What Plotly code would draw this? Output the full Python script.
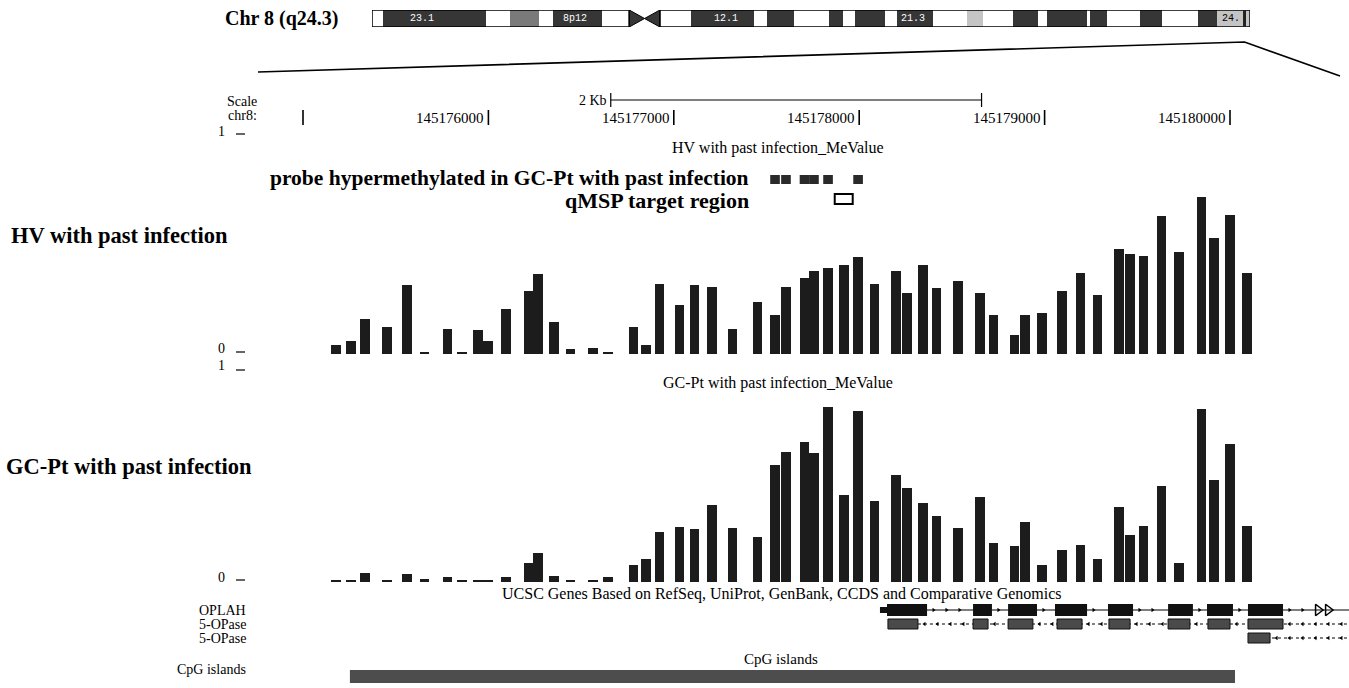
import plotly.graph_objects as go
import numpy as np

W, H = 1349, 688
SERIF = "Liberation Serif"

# ---------------- data ----------------
# probe (CpG site) centre positions on chr8, bp
probe_pos = [145175178, 145175259, 145175334, 145175453, 145175561, 145175655, 145175779,
             145175858, 145175944, 145175998, 145176095, 145176219, 145176268, 145176354,
             145176443, 145176564, 145176645, 145176783, 145176850, 145176923, 145177031,
             145177112, 145177206, 145177317, 145177451, 145177546, 145177605, 145177705,
             145177756, 145177832, 145177918, 145177994, 145178083, 145178198, 145178258,
             145178344, 145178417, 145178533, 145178652, 145178724, 145178838, 145178894,
             145178986, 145179094, 145179194, 145179285, 145179401, 145179461, 145179533,
             145179631, 145179725, 145179846, 145179914, 145180000, 145180092]
PROBE_BP = 52

hv_values = [0.041, 0.059, 0.159, 0.123, 0.314, 0.009, 0.114, 0.009, 0.109, 0.059, 0.205,
             0.286, 0.364, 0.145, 0.023, 0.027, 0.009, 0.123, 0.041, 0.318, 0.223, 0.314,
             0.305, 0.114, 0.236, 0.177, 0.305, 0.345, 0.377, 0.391, 0.405, 0.441, 0.318,
             0.377, 0.277, 0.405, 0.300, 0.332, 0.277, 0.177, 0.086, 0.177, 0.186, 0.286,
             0.368, 0.268, 0.477, 0.455, 0.445, 0.627, 0.464, 0.714, 0.527, 0.632, 0.368]

gc_values = [0.009, 0.009, 0.042, 0.009, 0.037, 0.014, 0.023, 0.009, 0.009, 0.009, 0.023,
             0.089, 0.136, 0.028, 0.009, 0.009, 0.023, 0.079, 0.107, 0.234, 0.257, 0.248,
             0.360, 0.252, 0.210, 0.547, 0.607, 0.654, 0.603, 0.818, 0.407, 0.799, 0.379,
             0.500, 0.439, 0.369, 0.308, 0.252, 0.397, 0.182, 0.168, 0.280, 0.079, 0.150,
             0.173, 0.107, 0.350, 0.220, 0.262, 0.449, 0.089, 0.808, 0.477, 0.645, 0.262]

hyper_idx = [25, 26, 27, 28, 29, 31]          # probes hypermethylated in GC-Pt
qmsp_region = [145177868, 145177965]

ruler_ticks = [145175000, 145176000, 145177000, 145178000, 145179000, 145180000]
ruler_labels = ["", "145176000", "145177000", "145178000", "145179000", "145180000"]
scale_bar = [145176660, 145178660]
scale_text = "2 Kb"

oplah_utr = [145178112, 145178200]
oplah_start = [145178150, 145178614, 145178803, 145179056, 145179342, 145179666, 145179876, 145180097]
oplah_end = [145178366, 145178716, 145178959, 145179229, 145179477, 145179800, 145180016, 145180286]
opase1_start = [145178155, 145178614, 145178803, 145179067, 145179347, 145179666, 145179881, 145180097]
opase1_end = [145178317, 145178695, 145178937, 145179202, 145179461, 145179784, 145180000, 145180286]
opase2_start = [145180097]
opase2_end = [145180216]
oplah_end_arrows = [145180475, 145180529]
cpg_island = [145175253, 145180027]

band_edges_mb = [0, 1.8, 19.0, 23.0, 27.8, 30.1, 38.3, 42.8, 47.9, 53.1, 63.6, 65.7, 70.2,
                 76.0, 78.4, 80.4, 85.4, 87.4, 93.3, 99.0, 101.7, 106.7, 110.8, 112.3, 119.0,
                 119.5, 122.3, 127.8, 131.4, 137.4, 140.6, 146.1]
band_stains = ["gneg", "gpos100", "gneg", "gpos50", "gneg", "gpos100", "gneg", "acen", "gneg",
               "gpos100", "gneg", "gpos100", "gneg", "gpos100", "gneg", "gpos100", "gneg",
               "gpos100", "gneg", "gpos25", "gneg", "gpos100", "gneg", "gpos100", "gneg",
               "gpos100", "gneg", "gpos100", "gneg", "gpos100", "gpos25"]
band_label_text = ["23.1", "8p12", "12.1", "21.3", "24."]
band_label_mb = [8.3, 33.8, 58.9, 90.0, 143.0]
view_mb = 145.18

# ---------------- layout helpers ----------------
REF_POS, REF_PX, PX_PER_BP = 145175000, 303, 0.1854
G0 = REF_POS - REF_PX / PX_PER_BP
G1 = REF_POS + (W - REF_PX) / PX_PER_BP
IDEO_X0, IDEO_PX_PER_MB = 372, 6.01


def px(x):
    return x / W


def py(y):
    return 1 - y / H


STAIN_COL = {"gneg": "#ffffff", "gpos100": "#363636", "gpos50": "#7a7a7a",
             "gpos25": "#c4c4c4", "acen": "#363636"}

fig = go.Figure()
shapes = []
ann = []


def text(x, y, s, size=13, xanchor="center", bold=False, xref="paper", yref="paper",
         color="black", family=SERIF, xshift=0):
    if xref == "paper":
        x = px(x)
    if yref == "paper":
        y = py(y)
    ann.append(dict(x=x, y=y, xref=xref, yref=yref, text=f"<b>{s}</b>" if bold else s,
                    showarrow=False, xanchor=xanchor, yanchor="middle", xshift=xshift,
                    borderpad=0, font=dict(family=family, size=size, color=color)))


def hline(x0, x1, y, xref="x", width=1.2, color="black", dash=None):
    shapes.append(dict(type="line", xref=xref, yref="paper", x0=x0, x1=x1, y0=py(y), y1=py(y),
                       line=dict(color=color, width=width, dash=dash)))


def vline(x, y0, y1, xref="x", width=1.2, color="black"):
    shapes.append(dict(type="line", xref=xref, yref="paper", x0=x, x1=x, y0=py(y0), y1=py(y1),
                       line=dict(color=color, width=width)))


def box(x0, x1, y0, y1, fill="black", line_color=None, lw=0, xref="x"):
    shapes.append(dict(type="rect", xref=xref, yref="paper", x0=x0, x1=x1, y0=py(y1), y1=py(y0),
                       fillcolor=fill, line=dict(color=line_color or fill, width=lw)))


# ---------------- ideogram ----------------
idx_bands = [i for i, s in enumerate(band_stains) if s != "acen"]
fig.add_trace(go.Bar(
    orientation="h", xaxis="x2", yaxis="y3",
    y=[0.5] * len(idx_bands),
    base=[band_edges_mb[i] for i in idx_bands],
    x=[band_edges_mb[i + 1] - band_edges_mb[i] for i in idx_bands],
    width=1, marker=dict(color=[STAIN_COL[band_stains[i]] for i in idx_bands], line=dict(width=0)),
    hoverinfo="skip"))
ac = band_stains.index("acen")
a0, a1 = band_edges_mb[ac], band_edges_mb[ac + 1]
am = (a0 + a1) / 2
for xs in ([a0, a0, am, a0], [a1, a1, am, a1]):
    fig.add_trace(go.Scatter(x=xs, y=[0, 1, 0.5, 0], xaxis="x2", yaxis="y3", mode="lines",
                             fill="toself", fillcolor="#363636", line=dict(color="black", width=1),
                             hoverinfo="skip"))
for x0, x1 in ((0, a0), (a1, band_edges_mb[-1])):
    shapes.append(dict(type="rect", xref="x2", yref="y3", x0=x0, x1=x1, y0=0, y1=1,
                       line=dict(color="black", width=1.5)))
shapes.append(dict(type="line", xref="x2", yref="y3", x0=view_mb, x1=view_mb, y0=-0.15, y1=1.15,
                   line=dict(color="#222", width=3)))
for s, m in zip(band_label_text, band_label_mb):
    st = band_stains[int(np.searchsorted(band_edges_mb, m)) - 1]
    text(m, 0.5, s, size=10, xref="x2", yref="y3", family="Liberation Mono",
         color="white" if st == "gpos100" else "black")
text(340, 18, "Chr 8 (q24.3)", size=20, xanchor="right", bold=True)

# zoom lines from the ideogram position to the track edges
fig.add_trace(go.Scatter(x=[px(258), px(IDEO_X0 + view_mb * IDEO_PX_PER_MB), px(1340)],
                         y=[py(72), py(42), py(76)],
                         xaxis="x3", yaxis="y4", mode="lines",
                         line=dict(color="black", width=1.6), hoverinfo="skip"))

# ---------------- ruler ----------------
text(258, 101, "Scale", size=14, xanchor="right")
text(258, 116, "chr8:", size=14, xanchor="right")
hline(scale_bar[0], scale_bar[1], 100)
vline(scale_bar[0], 93, 107)
vline(scale_bar[1], 93, 107)
text(scale_bar[0], 100, scale_text, size=14, xanchor="right", xref="x", xshift=-3)
for t, lab in zip(ruler_ticks, ruler_labels):
    vline(t, 110, 125, width=1.6)
    if lab:
        text(t, 118, lab, size=15, xanchor="right", xref="x", xshift=-3)

# ---------------- HV track ----------------
HV0, HV1 = 354, 134
GC0, GC1 = 582, 368
text(778, 148, "HV with past infection_MeValue", size=16)
text(221, HV1 - 3, "1", size=14)
fig.add_trace(go.Bar(x=probe_pos, y=hv_values, width=PROBE_BP, xaxis="x", yaxis="y",
                     marker=dict(color="#1c1c1c", line=dict(width=0)), hoverinfo="skip"))
text(221, HV0 - 6, "0", size=14)
text(221, GC1 - 2, "1", size=14)
text(10, 235, "HV with past infection", size=22.5, xanchor="left", bold=True)

# probe / qMSP tracks
text(750, 178, "probe hypermethylated in GC-Pt with past infection", size=21.5, xanchor="right", bold=True)
text(750, 200, "qMSP target region", size=22, xanchor="right", bold=True)
for i in hyper_idx:
    box(probe_pos[i] - PROBE_BP / 2, probe_pos[i] + PROBE_BP / 2, 175, 184, fill="#2a2a2a")
box(qmsp_region[0], qmsp_region[1], 194, 204, fill="white", line_color="black", lw=2)

# ---------------- GC-Pt track ----------------
text(778, 383, "GC-Pt with past infection_MeValue", size=16)
fig.add_trace(go.Bar(x=probe_pos, y=gc_values, width=PROBE_BP, xaxis="x", yaxis="y2",
                     marker=dict(color="#1c1c1c", line=dict(width=0)), hoverinfo="skip"))
text(221, GC0 - 5, "0", size=14)
text(5, 466, "GC-Pt with past infection", size=22.5, xanchor="left", bold=True)

# ---------------- genes ----------------
R_OPLAH, R_OP1, R_OP2 = 610, 624, 638
text(782, 594, "UCSC Genes Based on RefSeq, UniProt, GenBank, CCDS and Comparative Genomics", size=16)
text(247, R_OPLAH, "OPLAH", size=14, xanchor="right")
text(247, R_OP1, "5-OPase", size=14, xanchor="right")
text(247, R_OP2, "5-OPase", size=14, xanchor="right")

hline(oplah_utr[0], G1, R_OPLAH, width=1.2)
box(oplah_utr[0], oplah_utr[1], R_OPLAH - 3, R_OPLAH + 3, fill="#111")
for s, e in zip(oplah_start, oplah_end):
    box(s, e, R_OPLAH - 6, R_OPLAH + 6, fill="#111")
hline(opase1_start[0], G1, R_OP1, width=1, dash="dot")
for s, e in zip(opase1_start, opase1_end):
    box(s, e, R_OP1 - 5, R_OP1 + 5, fill="#4a4a4a", line_color="#111", lw=1)
hline(opase2_start[0], G1, R_OP2, width=1, dash="dot")
for s, e in zip(opase2_start, opase2_end):
    box(s, e, R_OP2 - 5, R_OP2 + 5, fill="#4a4a4a", line_color="#111", lw=1)


def intron_marks(starts, ends, stop, step=70):
    pts = []
    for a, b in zip(ends, list(starts[1:]) + [stop]):
        pts.extend(np.arange(a + step / 2, b - step / 3, step))
    return pts


m1 = intron_marks(oplah_start, oplah_end, oplah_end_arrows[0] - 40)
fig.add_trace(go.Scatter(x=m1, y=[py(R_OPLAH)] * len(m1), xaxis="x", yaxis="y4", mode="markers",
                         marker=dict(symbol="triangle-right", size=4, color="black"), hoverinfo="skip"))
fig.add_trace(go.Scatter(x=oplah_end_arrows, y=[py(R_OPLAH)] * 2, xaxis="x", yaxis="y4", mode="markers",
                         marker=dict(symbol="triangle-right-open", size=10, color="black",
                                     line=dict(width=1.5)), hoverinfo="skip"))
m2 = intron_marks(opase1_start, opase1_end, G1)
m3 = intron_marks(opase2_start, opase2_end, G1)
fig.add_trace(go.Scatter(x=m2 + m3, y=[py(R_OP1)] * len(m2) + [py(R_OP2)] * len(m3), xaxis="x", yaxis="y4",
                         mode="markers", marker=dict(symbol="triangle-left", size=4, color="black"),
                         hoverinfo="skip"))

# ---------------- CpG islands ----------------
text(781, 659, "CpG islands", size=15)
text(247, 669, "CpG islands", size=14, xanchor="right")
box(cpg_island[0], cpg_island[1], 670, 683, fill="#4d4d4d")

# the "_" ticks next to the y labels
for yy in (HV1, HV0 - 2, GC1 + 2, GC0 - 2):
    shapes.append(dict(type="line", xref="paper", yref="paper", x0=px(236), x1=px(245),
                       y0=py(yy), y1=py(yy), line=dict(color="black", width=1.2)))

hidden = dict(visible=False, fixedrange=True)
fig.update_layout(
    width=W, height=H, margin=dict(l=0, r=0, t=0, b=0),
    paper_bgcolor="white", plot_bgcolor="rgba(0,0,0,0)",
    showlegend=False, barmode="overlay", bargap=0,
    xaxis=dict(domain=[0, 1], range=[G0, G1], anchor="y", **hidden),
    yaxis=dict(domain=[py(HV0), py(HV1)], range=[0, 1], anchor="x", **hidden),
    yaxis2=dict(domain=[py(GC0), py(GC1)], range=[0, 1], anchor="x", **hidden),
    xaxis2=dict(domain=[px(IDEO_X0), px(IDEO_X0 + band_edges_mb[-1] * IDEO_PX_PER_MB)],
                range=[0, band_edges_mb[-1]], anchor="y3", **hidden),
    yaxis3=dict(domain=[py(27), py(10)], range=[0, 1], anchor="x2", **hidden),
    xaxis3=dict(domain=[0, 1], range=[0, 1], anchor="y4", **hidden),
    yaxis4=dict(domain=[0, 1], range=[0, 1], anchor="x3", **hidden),
    shapes=shapes, annotations=ann,
)

fig.write_html("out.html", config={"displayModeBar": False},
               post_script="document.body.style.margin='0px';document.body.style.overflow='hidden';")
